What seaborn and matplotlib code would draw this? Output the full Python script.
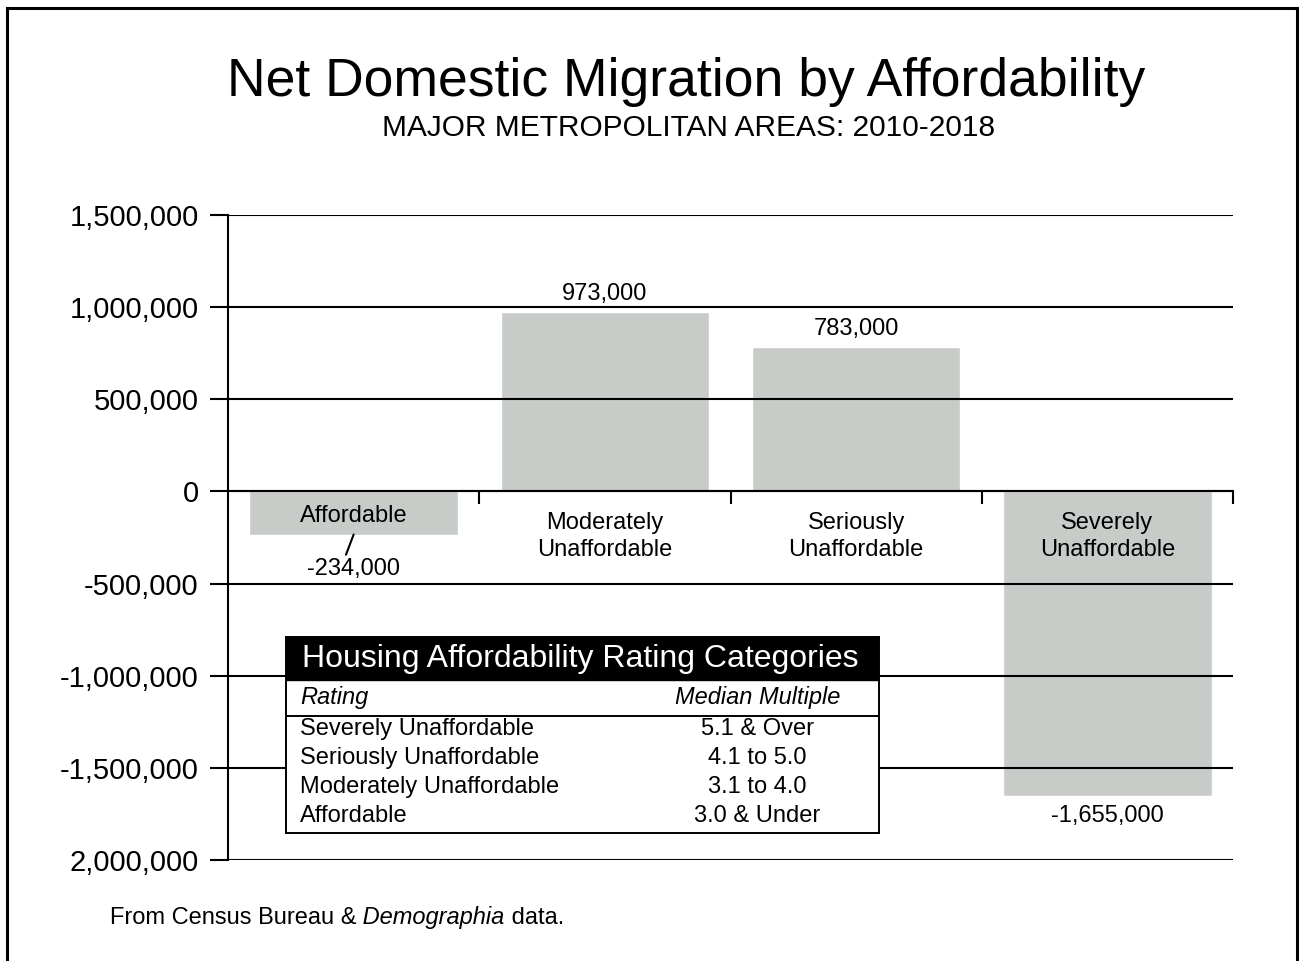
import numpy as np
import pandas as pd
import matplotlib
matplotlib.use("Agg")
import matplotlib.pyplot as plt
from matplotlib.patches import Rectangle
from matplotlib.text import Annotation
import seaborn as sns

# ---------------- datos ----------------
categorias = ["Affordable", "Moderately\nUnaffordable", "Seriously\nUnaffordable", "Severely\nUnaffordable"]
migracion = [-234000, 973000, 783000, -1655000]
etiquetas_valor = ["-234,000", "973,000", "783,000", "-1,655,000"]

y_ticks = [1500000, 1000000, 500000, 0, -500000, -1000000, -1500000, -2000000]
y_labels = ["1,500,000", "1,000,000", "500,000", "0", "-500,000", "-1,000,000", "-1,500,000", "2,000,000"]

tabla_rating = ["Severely Unaffordable", "Seriously Unaffordable", "Moderately Unaffordable", "Affordable"]
tabla_multiple = ["5.1 & Over", "4.1 to 5.0", "3.1 to 4.0", "3.0 & Under"]

TITULO = "Net Domestic Migration by Affordability"
SUBTITULO = "MAJOR METROPOLITAN AREAS: 2010-2018"
COLOR_BARRA = "#c8ccc8"

sns.set_theme(style="white")
plt.rcParams["font.family"] = ["Liberation Sans", "DejaVu Sans"]
plt.rcParams["text.color"] = "black"
plt.rcParams["xtick.color"] = "black"
plt.rcParams["ytick.color"] = "black"

W, H = 1299, 961
fig = plt.figure(figsize=(W / 100, H / 100), dpi=100)
ax = fig.add_axes([228 / W, 101 / H, 1005 / W, 645 / H])

df = pd.DataFrame({"cat": categorias, "val": migracion})
sns.barplot(data=df, x="cat", y="val", color=COLOR_BARRA, saturation=1, width=0.83, ax=ax)

ax.set_xlim(-0.5, len(categorias) - 0.5)
ax.set_ylim(-2000000, 1500000)
ax.set_xlabel("")
ax.set_ylabel("")

# eje y
ax.set_yticks(y_ticks)
ax.set_yticklabels(y_labels)
ax.tick_params(axis="y", left=True, length=13, width=1.5, pad=8, labelsize=21, colors="black")
ax.yaxis.grid(True, color="black", linewidth=1.5)
ax.xaxis.grid(False)
ax.set_axisbelow(False)

# eje x en cero con marcas entre categorias
ax.spines["bottom"].set_position(("data", 0))
ax.set_xticks(np.arange(len(categorias)) + 0.5)
ax.set_xticklabels([])
ax.tick_params(axis="x", bottom=True, length=9.5, width=1.5, direction="out", colors="black")
for s in ["top", "right"]:
    ax.spines[s].set_visible(False)
for s in ["left", "bottom"]:
    ax.spines[s].set_color("black")
    ax.spines[s].set_linewidth(1.5)

# nombres de categorias y valores
for i, (cat, v, lab) in enumerate(zip(categorias, migracion, etiquetas_valor)):
    off_cat = -32.4 if "\n" in cat else -18
    ax.annotate(cat, xy=(i, 0), xytext=(0, off_cat), textcoords="offset points",
                ha="center", va="center", fontsize=17, linespacing=1.25, zorder=5)
    if v >= 0:
        ax.annotate(lab, xy=(i, v), xytext=(0, 13), textcoords="offset points",
                    ha="center", va="center", fontsize=17)
    elif "\n" not in cat:
        # barra corta: etiqueta fuera con linea guia
        ax.annotate("", xy=(i, v), xytext=(-5.5, -14.5), textcoords="offset points",
                    arrowprops=dict(arrowstyle="-", lw=1.5, color="black", shrinkA=0, shrinkB=0))
        ax.annotate(lab, xy=(i, v), xytext=(0, -24.5), textcoords="offset points",
                    ha="center", va="center", fontsize=17)
    else:
        ax.annotate(lab, xy=(i, v), xytext=(0, -14), textcoords="offset points",
                    ha="center", va="center", fontsize=17)

# titulos
fig.text(686 / W, 1 - 82 / H, TITULO, ha="center", va="center", fontsize=38.5)
fig.text(688 / W, 1 - 128 / H, SUBTITULO, ha="center", va="center", fontsize=21.5)

# tabla de categorias
tax = fig.add_axes([286 / W, (H - 833) / H, 593 / W, 196 / H])
tax.set_xlim(0, 1)
tax.set_ylim(0, 1)
tax.set_xticks([])
tax.set_yticks([])
tax.set_facecolor("white")
for s in tax.spines.values():
    s.set_visible(True)
    s.set_color("black")
    s.set_linewidth(1.4)
tax.axhspan(0.781, 1, color="black")
tax.axhline(0.597, color="black", lw=1.4)
tax.text(0.027, 0.89, "Housing Affordability Rating Categories", color="white",
         ha="left", va="center", fontsize=23)
tax.text(0.024, 0.689, "Rating", style="italic", ha="left", va="center", fontsize=17)
tax.text(0.795, 0.689, "Median Multiple", style="italic", ha="center", va="center", fontsize=17)
for k, (r, m) in enumerate(zip(tabla_rating, tabla_multiple)):
    yy = 0.531 - k * 0.148
    tax.text(0.024, yy, r, ha="left", va="center", fontsize=17)
    tax.text(0.795, yy, m, ha="center", va="center", fontsize=17)

# fuente
t1 = fig.text(110 / W, 1 - 918 / H, "From Census Bureau &", ha="left", va="center", fontsize=17)
a2 = fig.add_artist(Annotation(" Demographia", xy=(1, 0), xycoords=t1,
                               va="bottom", ha="left", style="italic", fontsize=17))
fig.add_artist(Annotation(" data.", xy=(1, 0), xycoords=a2,
                          va="bottom", ha="left", fontsize=17))

# marco
fig.patches.append(Rectangle((7 / W, -0.1), 1290 / W, (H - 8) / H + 0.1, transform=fig.transFigure,
                             fill=False, lw=2.2, ec="black"))

fig.savefig("out.png", dpi=100)
